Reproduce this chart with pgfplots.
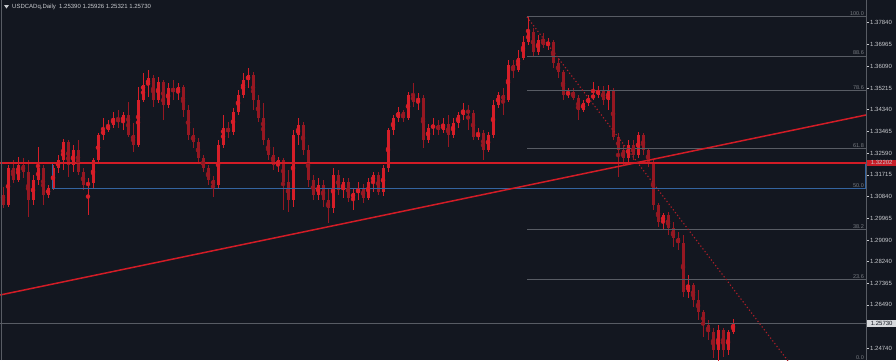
\documentclass[border=0pt]{standalone}
\usepackage{pgfplots}
\pgfplotsset{compat=1.18}
\usepackage{pgfplotstable}
\usepackage{fontspec}
\setmainfont{Liberation Sans}
\definecolor{bgcol}{RGB}{19,23,32}
\definecolor{upcol}{RGB}{214,30,40}
\definecolor{dncol}{RGB}{150,24,34}
\definecolor{dotred}{RGB}{175,30,40}
\definecolor{gridgray}{RGB}{88,92,100}
\definecolor{labgray}{RGB}{200,202,206}
\definecolor{fibtxt}{RGB}{120,124,130}
\definecolor{trendred}{RGB}{210,28,38}
\definecolor{boxblue}{RGB}{52,100,160}
\pgfplotstableread{
k o h l c
0 1.3091 1.3123 1.3038 1.3050
1 1.3050 1.3211 1.3042 1.3199
2 1.3199 1.3231 1.3139 1.3151
3 1.3151 1.3244 1.3143 1.3211
4 1.3211 1.3240 1.3159 1.3183
5 1.3183 1.3231 1.3002 1.3070
6 1.3070 1.3171 1.3050 1.3151
7 1.3151 1.3284 1.3131 1.3199
8 1.3199 1.3211 1.3050 1.3091
9 1.3091 1.3131 1.3079 1.3119
10 1.3119 1.3211 1.3111 1.3199
11 1.3199 1.3252 1.3179 1.3231
12 1.3231 1.3316 1.3191 1.3304
13 1.3304 1.3312 1.3163 1.3211
14 1.3211 1.3292 1.3183 1.3272
15 1.3272 1.3312 1.3171 1.3183
16 1.3183 1.3199 1.3111 1.3131
17 1.3131 1.3159 1.3010 1.3139
18 1.3139 1.3240 1.3119 1.3231
19 1.3231 1.3340 1.3223 1.3332
20 1.3332 1.3400 1.3312 1.3352
21 1.3352 1.3392 1.3344 1.3372
22 1.3372 1.3424 1.3360 1.3400
23 1.3400 1.3432 1.3360 1.3384
24 1.3384 1.3424 1.3352 1.3412
25 1.3412 1.3465 1.3324 1.3332
26 1.3332 1.3380 1.3264 1.3292
27 1.3292 1.3525 1.3284 1.3473
28 1.3473 1.3581 1.3465 1.3533
29 1.3533 1.3593 1.3485 1.3561
30 1.3561 1.3573 1.3445 1.3473
31 1.3473 1.3565 1.3461 1.3545
32 1.3545 1.3553 1.3392 1.3453
33 1.3453 1.3541 1.3441 1.3521
34 1.3521 1.3553 1.3473 1.3505
35 1.3505 1.3541 1.3473 1.3525
36 1.3525 1.3533 1.3405 1.3432
37 1.3432 1.3453 1.3312 1.3332
38 1.3332 1.3360 1.3280 1.3304
39 1.3304 1.3320 1.3223 1.3240
40 1.3240 1.3252 1.3183 1.3199
41 1.3199 1.3211 1.3131 1.3151
42 1.3151 1.3167 1.3083 1.3131
43 1.3131 1.3312 1.3119 1.3292
44 1.3292 1.3412 1.3280 1.3360
45 1.3360 1.3384 1.3320 1.3344
46 1.3344 1.3441 1.3332 1.3424
47 1.3424 1.3513 1.3412 1.3493
48 1.3493 1.3581 1.3481 1.3553
49 1.3553 1.3602 1.3521 1.3573
50 1.3573 1.3585 1.3432 1.3473
51 1.3473 1.3493 1.3384 1.3400
52 1.3400 1.3461 1.3292 1.3312
53 1.3312 1.3320 1.3231 1.3252
54 1.3252 1.3284 1.3191 1.3211
55 1.3211 1.3244 1.3183 1.3231
56 1.3231 1.3240 1.3030 1.3143
57 1.3143 1.3191 1.3022 1.3070
58 1.3070 1.3352 1.3042 1.3332
59 1.3332 1.3400 1.3292 1.3372
60 1.3372 1.3384 1.3252 1.3272
61 1.3272 1.3292 1.3123 1.3151
62 1.3151 1.3171 1.3070 1.3091
63 1.3091 1.3159 1.3070 1.3131
64 1.3131 1.3151 1.3042 1.3070
65 1.3070 1.3119 1.2978 1.3038
66 1.3038 1.3199 1.3018 1.3171
67 1.3171 1.3191 1.3091 1.3111
68 1.3111 1.3159 1.3079 1.3143
69 1.3143 1.3159 1.3062 1.3079
70 1.3079 1.3119 1.3030 1.3099
71 1.3099 1.3143 1.3070 1.3119
72 1.3119 1.3135 1.3058 1.3079
73 1.3079 1.3159 1.3070 1.3143
74 1.3143 1.3183 1.3103 1.3171
75 1.3171 1.3183 1.3091 1.3103
76 1.3103 1.3211 1.3087 1.3199
77 1.3199 1.3360 1.3183 1.3352
78 1.3352 1.3412 1.3332 1.3400
79 1.3400 1.3445 1.3384 1.3424
80 1.3424 1.3432 1.3384 1.3400
81 1.3400 1.3505 1.3392 1.3493
82 1.3493 1.3541 1.3445 1.3465
83 1.3465 1.3501 1.3432 1.3481
84 1.3481 1.3493 1.3280 1.3312
85 1.3312 1.3376 1.3300 1.3360
86 1.3360 1.3400 1.3332 1.3372
87 1.3372 1.3392 1.3332 1.3352
88 1.3352 1.3400 1.3340 1.3376
89 1.3376 1.3412 1.3284 1.3332
90 1.3332 1.3400 1.3320 1.3380
91 1.3380 1.3424 1.3360 1.3412
92 1.3412 1.3461 1.3392 1.3432
93 1.3432 1.3453 1.3352 1.3420
94 1.3420 1.3432 1.3312 1.3324
95 1.3324 1.3360 1.3312 1.3340
96 1.3340 1.3352 1.3231 1.3272
97 1.3272 1.3344 1.3264 1.3332
98 1.3332 1.3473 1.3320 1.3453
99 1.3453 1.3505 1.3441 1.3493
100 1.3493 1.3521 1.3412 1.3473
101 1.3473 1.3634 1.3465 1.3614
102 1.3614 1.3634 1.3561 1.3593
103 1.3593 1.3674 1.3585 1.3642
104 1.3642 1.3730 1.3634 1.3706
105 1.3706 1.3807 1.3694 1.3746
106 1.3746 1.3762 1.3650 1.3666
107 1.3666 1.3734 1.3654 1.3714
108 1.3714 1.3742 1.3682 1.3694
109 1.3694 1.3722 1.3674 1.3706
110 1.3706 1.3714 1.3602 1.3622
111 1.3622 1.3642 1.3561 1.3585
112 1.3585 1.3593 1.3473 1.3493
113 1.3493 1.3521 1.3481 1.3505
114 1.3505 1.3521 1.3473 1.3481
115 1.3481 1.3493 1.3392 1.3432
116 1.3432 1.3473 1.3424 1.3461
117 1.3461 1.3493 1.3449 1.3481
118 1.3481 1.3545 1.3473 1.3493
119 1.3493 1.3529 1.3481 1.3513
120 1.3513 1.3529 1.3453 1.3473
121 1.3473 1.3533 1.3432 1.3513
122 1.3513 1.3521 1.3312 1.3324
123 1.3324 1.3340 1.3163 1.3272
124 1.3272 1.3292 1.3211 1.3240
125 1.3240 1.3312 1.3219 1.3292
126 1.3292 1.3312 1.3231 1.3252
127 1.3252 1.3344 1.3240 1.3332
128 1.3332 1.3340 1.3252 1.3272
129 1.3272 1.3280 1.3203 1.3219
130 1.3219 1.3231 1.3030 1.3050
131 1.3050 1.3058 1.2962 1.2982
132 1.2982 1.3018 1.2950 1.3010
133 1.3010 1.3022 1.2930 1.2958
134 1.2958 1.2982 1.2882 1.2918
135 1.2918 1.2942 1.2869 1.2898
136 1.2898 1.2930 1.2680 1.2700
137 1.2700 1.2769 1.2676 1.2729
138 1.2729 1.2737 1.2640 1.2668
139 1.2668 1.2708 1.2588 1.2620
140 1.2620 1.2628 1.2519 1.2568
141 1.2568 1.2588 1.2507 1.2539
142 1.2539 1.2555 1.2435 1.2467
143 1.2467 1.2568 1.2424 1.2547
144 1.2547 1.2555 1.2439 1.2467
145 1.2467 1.2547 1.2447 1.2539
146 1.2539 1.2593 1.2532 1.2573
}\candles
\begin{document}
\begin{tikzpicture}
\fill[bgcol] (0,0) rectangle (896pt,360pt);
\begin{axis}[
  at={(0,0)}, anchor=south west,
  scale only axis, width=866pt, height=360pt,
  xmin=-0.6, xmax=172.6,
  ymin=1.24269, ymax=1.38753,
  axis background/.style={fill=bgcol},
  axis line style={draw=none},
  xtick=\empty,
  ytick={1.37840,1.36965,1.36090,1.35215,1.34340,1.33465,1.32590,1.31715,1.30840,1.29965,1.29090,1.28240,1.27365,1.26490,1.24740},
  yticklabels={1.37840,1.36965,1.36090,1.35215,1.34340,1.33465,1.32590,1.31715,1.30840,1.29965,1.29090,1.28240,1.27365,1.26490,1.24740},
  ytick pos=right, yticklabel pos=right,
  tick align=outside, major tick length=3pt,
  ytick style={draw=labgray, line width=0.6pt},
  yticklabel style={font=\fontsize{6}{7}\selectfont, text=labgray, anchor=west, inner sep=1pt},
  clip=true,
]
% wicks
\addplot[only marks, mark=none, color=dncol, error bars/.cd, y dir=both, y explicit, error mark=none, error bar style={line width=1pt, color=dncol}]
  table[x expr={\thisrow{c}<\thisrow{o} ? \thisrow{k} : nan}, y expr={(\thisrow{h}+\thisrow{l})/2}, y error expr={(\thisrow{h}-\thisrow{l})/2}] {\candles};
\addplot[only marks, mark=none, color=upcol, error bars/.cd, y dir=both, y explicit, error mark=none, error bar style={line width=1pt, color=upcol}]
  table[x expr={\thisrow{c}<\thisrow{o} ? nan : \thisrow{k}}, y expr={(\thisrow{h}+\thisrow{l})/2}, y error expr={(\thisrow{h}-\thisrow{l})/2}] {\candles};
% bodies
\addplot[only marks, mark=none, color=dncol, error bars/.cd, y dir=both, y explicit, error mark=none, error bar style={line width=3pt, color=dncol}]
  table[x expr={\thisrow{c}<\thisrow{o} ? \thisrow{k} : nan}, y expr={(\thisrow{o}+\thisrow{c})/2}, y error expr={abs(\thisrow{o}-\thisrow{c})/2}] {\candles};
\addplot[only marks, mark=none, color=upcol, error bars/.cd, y dir=both, y explicit, error mark=none, error bar style={line width=3pt, color=upcol}]
  table[x expr={\thisrow{c}<\thisrow{o} ? nan : \thisrow{k}}, y expr={(\thisrow{o}+\thisrow{c})/2}, y error expr={abs(\thisrow{o}-\thisrow{c})/2}] {\candles};
% fibonacci levels
\foreach \lv/\pr in {100.0/1.3807, 88.6/1.36492, 78.6/1.35108, 61.8/1.32783, 50.0/1.3115, 38.2/1.29517, 23.6/1.27496, 0.0/1.2422} {
  \edef\temp{\noexpand\draw[gridgray, line width=1pt] (axis cs:104.8,\pr) -- (axis cs:172.6,\pr);
    \noexpand\node[anchor=south east, inner sep=1pt, font=\noexpand\fontsize{5.5}{6}\noexpand\selectfont, text=fibtxt] at (axis cs:172.4,\pr) {\lv};}
  \temp
}
% current price line
\draw[gridgray, line width=1pt] (axis cs:-0.6,1.2573) -- (axis cs:172.6,1.2573);
% blue rectangle
\draw[boxblue, line width=1pt] (axis cs:9.8,1.3223) rectangle (axis cs:172.5,1.3115);
% red horizontal
\draw[trendred, line width=1.6pt] (axis cs:-0.6,1.32202) -- (axis cs:172.6,1.32202);
% trend line
\draw[trendred, line width=1.5pt] (axis cs:-0.6,1.26884) -- (axis cs:172.6,1.34127);
% fib diagonal
\draw[dotred, line width=1.1pt, dash pattern=on 1.2pt off 2.3pt] (axis cs:104.8,1.3807) -- (axis cs:157,1.2423);
\coordinate (redlab) at (axis cs:172.6,1.32202);
\coordinate (curlab) at (axis cs:172.6,1.2573);
\end{axis}
% separators
\draw[gridgray, line width=1pt] (866.5pt,0) -- (866.5pt,360pt);
\draw[gridgray, line width=1.5pt] (1.5pt,0) -- (1.5pt,360pt);
% price boxes
\node[anchor=west, fill={rgb,255:red,200;green,30;blue,40}, text=labgray, font=\fontsize{6}{7}\selectfont, inner sep=1.2pt, minimum width=29pt] at ([xshift=1pt]redlab) {1.32202};
\node[anchor=west, fill={rgb,255:red,215;green,217;blue,220}, text=bgcol, font=\fontsize{6}{7}\selectfont, inner sep=1.2pt, minimum width=29pt] at ([xshift=1pt]curlab) {1.25730};
% header
\fill[labgray] (4pt,355pt) -- (9pt,355pt) -- (6.5pt,351.5pt) -- cycle;
\node[anchor=west, text=labgray, font=\fontsize{6}{7}\selectfont, inner sep=0pt] at (12pt,353pt) {USDCADq,Daily\ \ 1.25390 1.25926 1.25321 1.25730};
\pgfresetboundingbox
\path[use as bounding box] (0,0) rectangle (896pt,360pt);
\end{tikzpicture}
\end{document}
